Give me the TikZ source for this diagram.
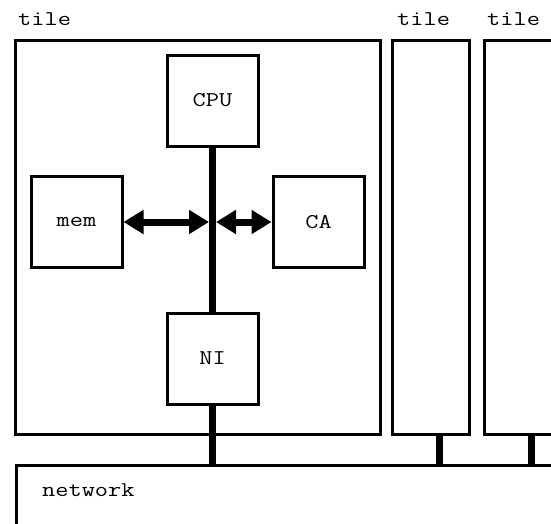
\documentclass[tikz,border=0pt]{standalone}
\usepackage{fontspec}
\setmonofont[FakeStretch=1.22]{Latin Modern Mono}
\usetikzlibrary{arrows.meta,calc}
\begin{document}
\begin{tikzpicture}[x=1pt,y=-1pt,
  every node/.style={font=\ttfamily\fontsize{21}{21}\selectfont},
  box/.style={draw,line width=3,minimum width=91,minimum height=91,inner sep=0},
  tilebox/.style={draw,line width=3,inner sep=0,minimum height=394},
  lbl/.style={anchor=base west,inner sep=0},
  bus/.style={line width=7},
  dbl/.style={line width=7,{Triangle[length=20pt,width=23pt]}-{Triangle[length=20pt,width=23pt]}}]
  \useasboundingbox (0,0) rectangle (551,523);
  \begin{scope}
  \clip (0,0) rectangle (551,523);
  % tiles
  \node[tilebox,minimum width=365] (t1) at (197.5,237) {};
  \node[tilebox,minimum width=77] (t2) at (430.5,237) {};
  \node[tilebox,minimum width=77] (t3) at (522.5,237) {};
  \node[lbl] (l1) at (18,25) {tile};
  \node[lbl] (l2) at (397,25) {tile};
  \node[lbl] (l3) at (487,25) {tile};
  % components of the first tile
  \node[box] (cpu) at (212.5,100.5) {CPU};
  \node[box] (mem) at (76.5,222) {mem};
  \node[box] (ca) at (318.5,222) {CA};
  \node[box] (ni) at (212.5,358.5) {NI};
  % network
  \node[draw,line width=3,anchor=north west,minimum width=560,minimum height=60,inner sep=0] (net) at (15,464) {};
  \node[lbl] (nl) at (42,496) {network};
  % internal bus and links
  \draw[bus] (cpu.south) -- (ni.north);
  \coordinate (bl) at ($(cpu.south |- mem.east) + (-3.5,0)$);
  \coordinate (br) at ($(cpu.south |- ca.west) + (3.5,0)$);
  \draw[dbl] (mem.east) -- (bl);
  \draw[dbl] (br) -- (ca.west);
  % links to the network
  \draw[bus] (ni.south) -- (ni.south |- net.north);
  \draw[bus] ([xshift=8.5]t2.south) -- ([xshift=8.5]t2.south |- net.north);
  \draw[bus] ([xshift=8.5]t3.south) -- ([xshift=8.5]t3.south |- net.north);
  \end{scope}
\end{tikzpicture}
\end{document}
